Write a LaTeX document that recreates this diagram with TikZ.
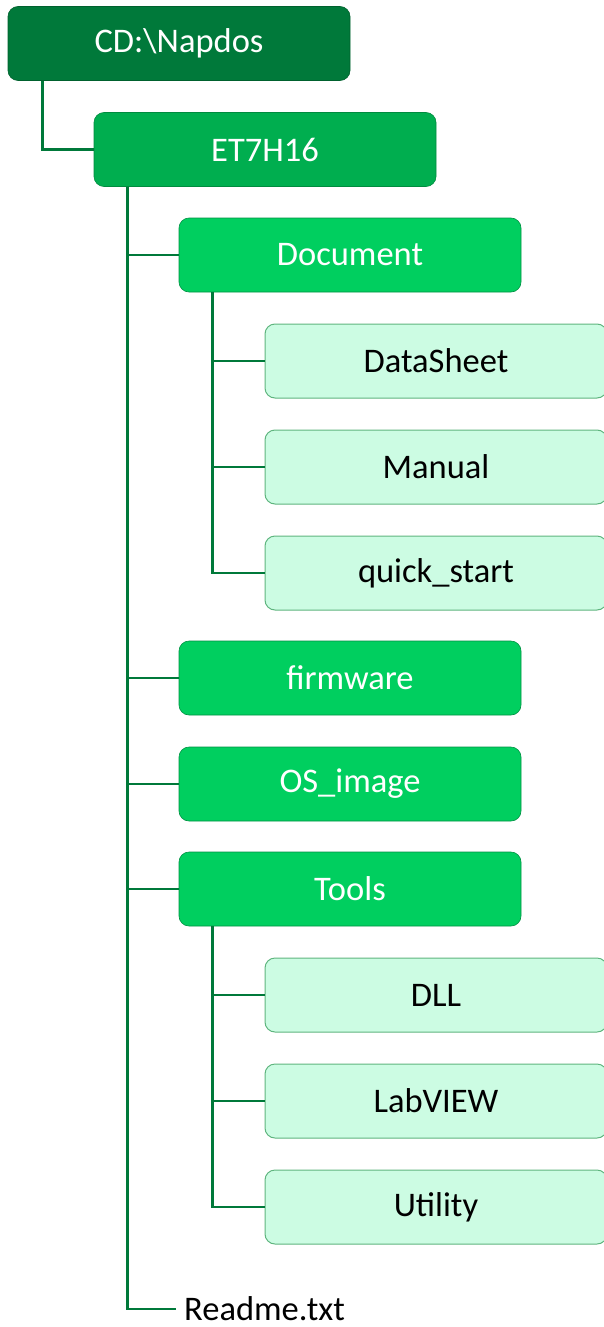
\documentclass[tikz,border=0pt]{standalone}
\usepackage{fontspec}
\setmainfont{Carlito}
\definecolor{rootc}{HTML}{00793A}
\definecolor{lvlone}{HTML}{00AE4F}
\definecolor{lvltwo}{HTML}{00CF5F}
\definecolor{leafc}{HTML}{CCFCE3}
\definecolor{leafb}{HTML}{5FB57F}
\definecolor{linec}{HTML}{00793A}
\begin{document}
\begin{tikzpicture}[x=1pt,y=1pt,
  box/.style={rounded corners=10pt, minimum width=342pt, minimum height=74pt, inner sep=0pt,
    font=\fontsize{34.5}{38}\selectfont},
  darkbox/.style={box, fill=rootc, draw=rootc!80!black, line width=0.6pt, text=white},
  midbox/.style={box, fill=lvlone, draw=lvlone!80!black, line width=0.6pt, text=white},
  greenbox/.style={box, fill=lvltwo, draw=lvltwo!70!black, line width=0.6pt, text=white},
  leafbox/.style={box, fill=leafc, draw=leafb, line width=1pt, text=black},
  conn/.style={draw=linec, line width=2.6pt}]
\useasboundingbox (0,0) rectangle (603,-1327);
\node[darkbox] (root) at (179,-43.5) {CD:\textbackslash Napdos};
\node[midbox] (et) at (265,-149.5) {ET7H16};
\node[greenbox] (doc) at (350,-255) {Document};
\node[leafbox] (ds) at (436,-361) {DataSheet};
\node[leafbox] (man) at (436,-467) {Manual};
\node[leafbox] (qs) at (436,-573) {quick\_start};
\node[greenbox] (fw) at (350,-678) {firmware};
\node[greenbox] (os) at (350,-784) {OS\_image};
\node[greenbox] (tools) at (350,-889) {Tools};
\node[leafbox] (dll) at (436,-995) {DLL};
\node[leafbox] (lab) at (436,-1101) {LabVIEW};
\node[leafbox] (util) at (436,-1207) {Utility};
\node[anchor=west, inner xsep=8pt, inner ysep=0pt, font=\fontsize{34.5}{38}\selectfont] (readme) at (176,-1309) {Readme.txt};
\draw[conn] ([xshift=35pt]root.south west) |- (et.west);
\draw[conn] ([xshift=34pt]et.south west) |- (readme.west);
\draw[conn] ([xshift=34pt]et.south west) |- (doc.west);
\draw[conn] ([xshift=34pt]et.south west) |- (fw.west);
\draw[conn] ([xshift=34pt]et.south west) |- (os.west);
\draw[conn] ([xshift=34pt]et.south west) |- (tools.west);
\draw[conn] ([xshift=34pt]doc.south west) |- (qs.west);
\draw[conn] ([xshift=34pt]doc.south west) |- (ds.west);
\draw[conn] ([xshift=34pt]doc.south west) |- (man.west);
\draw[conn] ([xshift=34pt]tools.south west) |- (util.west);
\draw[conn] ([xshift=34pt]tools.south west) |- (dll.west);
\draw[conn] ([xshift=34pt]tools.south west) |- (lab.west);
\end{tikzpicture}
\end{document}
